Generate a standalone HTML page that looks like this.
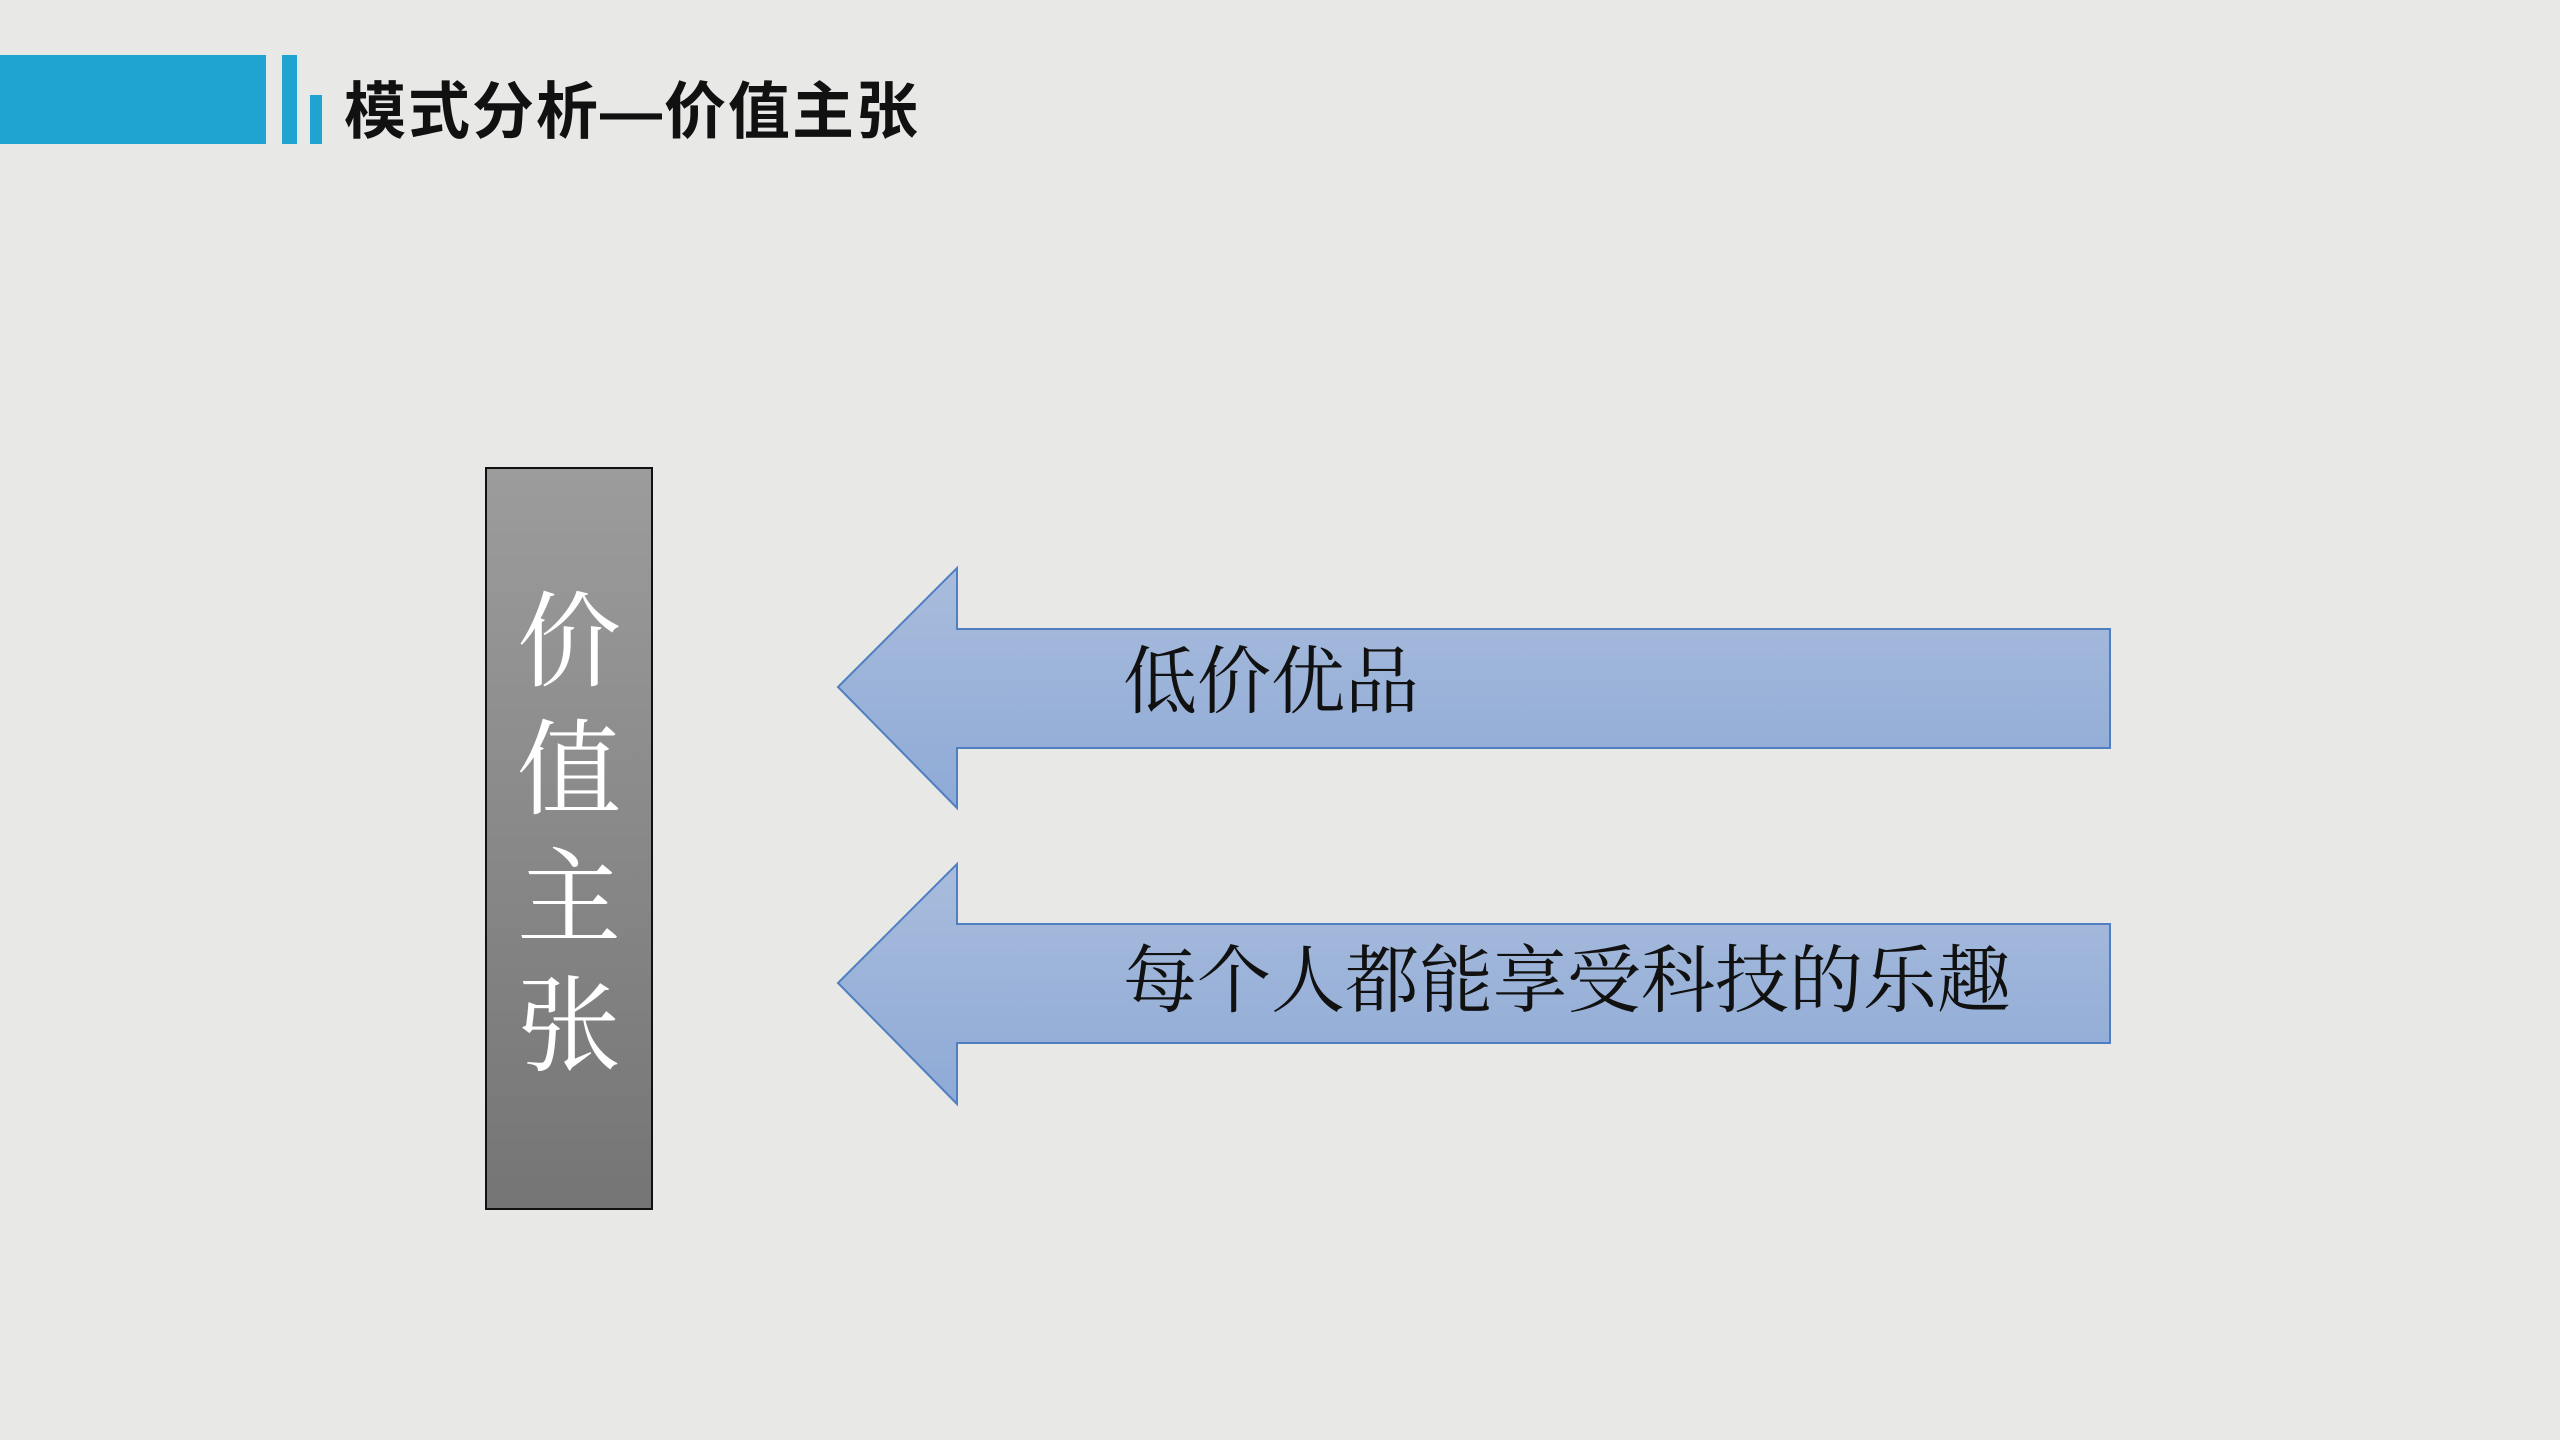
<!DOCTYPE html>
<html><head><meta charset="utf-8"><style>
body{margin:0;width:2560px;height:1440px;background:#e8e8e6;position:relative;overflow:hidden;font-family:"Liberation Serif","Noto Serif CJK SC",serif}
.a{position:absolute}
</style></head><body>
<div class="a" style="left:0;top:55px;width:266px;height:89px;background:#1fa3d1"></div>
<div class="a" style="left:282px;top:55px;width:15px;height:89px;background:#1fa3d1"></div>
<div class="a" style="left:310px;top:95px;width:12px;height:49px;background:#1fa3d1"></div>
<div class="a" style="left:344px;top:70px;font-size:62px;line-height:86px;letter-spacing:2px;font-weight:bold;font-family:'Liberation Sans','Noto Sans CJK SC',sans-serif;color:#111">模式分析—价值主张</div>
<div class="a" style="left:485px;top:467px;width:164px;height:739px;border:2px solid #111;background:linear-gradient(#9c9c9c,#757575)"></div>
<div class="a" style="left:485px;top:580px;width:168px;text-align:center;color:#fff;font-size:104px;line-height:128px">价<br>值<br>主<br>张</div>
<svg class="a" style="left:0;top:0" width="2560" height="1440">
<defs><linearGradient id="g" x1="0" y1="0" x2="0" y2="1"><stop offset="0" stop-color="#a9bcdc"/><stop offset="1" stop-color="#8eaad6"/></linearGradient></defs>
<polygon points="838,687 957,568 957,629 2110,629 2110,748 957,748 957,808" fill="url(#g)" stroke="#4f7fc0" stroke-width="2"/>
<polygon points="838,983 957,864 957,924 2110,924 2110,1043 957,1043 957,1104" fill="url(#g)" stroke="#4f7fc0" stroke-width="2"/>
<text x="1123" y="707" font-size="74" fill="#111" font-family="Liberation Serif, Noto Serif CJK SC, serif">低价优品</text>
<text x="1123" y="1006" font-size="74" fill="#111" font-family="Liberation Serif, Noto Serif CJK SC, serif">每个人都能享受科技的乐趣</text>
</svg>
</body></html>
